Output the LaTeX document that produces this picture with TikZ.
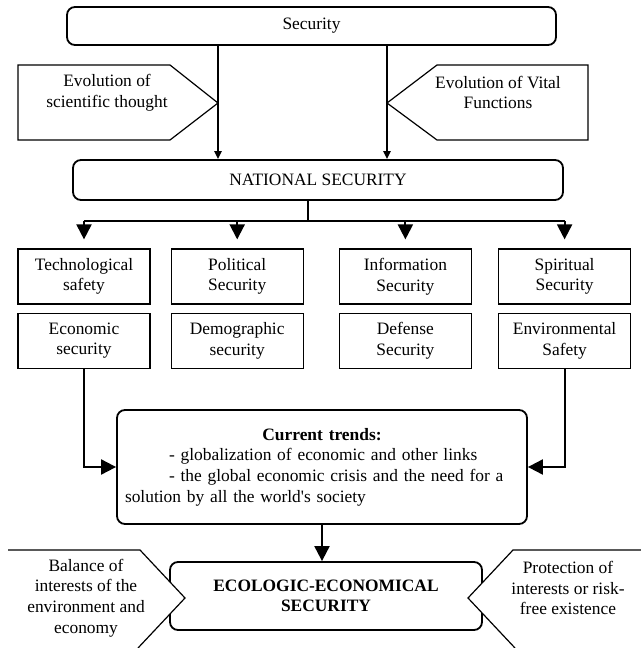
\documentclass[tikz,border=0pt]{standalone}
\usepackage{fontspec}
\setmainfont{Liberation Serif}[Ligatures=TeXOff]
\usetikzlibrary{arrows.meta, positioning}

\begin{document}
\begin{tikzpicture}
   [
      x=0.5pt, y=-0.5pt,
      font=\fontsize{8.7}{10.3}\selectfont,
      % Rounded frames for the main levels
      main box/.style={draw, rounded corners=4pt, line width=0.9pt, align=center},
      % Plain frames for the kinds of security
      kind box/.style={draw, line width=0.6pt, minimum width=66pt, minimum height=27.5pt, inner sep=1pt, align=center},
      % Arrow-shaped side frames
      side shape/.style={draw, fill=white, line width=0.6pt, line join=miter},
      side line/.style={line width=0.6pt, line join=miter},
      side text/.style={align=center},
      % Connectors
      link/.style={line width=1pt},
      big arrow/.style={link, -{Triangle[length=7.5pt, width=7.5pt]}},
      small arrow/.style={link, -{Triangle[length=4pt, width=3.5pt]}}
   ]

    \path[use as bounding box, fill=white] (0,0) rectangle (641,648);

    % =======================================================
    % Top: Security and the two sources
    % =======================================================

    \node[main box, minimum width=244.5pt, minimum height=19pt] (security) at (311.5,26) {Security};
    \node[main box, minimum width=245pt, minimum height=20pt] (national) at (318,180) {NATIONAL SECURITY};

    % Tips of the side frames touch the arrows
    \coordinate (sciTip) at (218,103);
    \coordinate (vitalTip) at (387,103);

    \draw[side shape] (18,65) -- (170,65) -- (sciTip) -- (170,140) -- (18,140) -- cycle;
    \draw[side shape] (588,65) -- (437,65) -- (vitalTip) -- (437,140) -- (588,140) -- cycle;
    \node[side text] (sciText) at (107,92.5) {Evolution of\\scientific thought};
    \node[side text] (vitalText) at (498,92.5) {Evolution of Vital\\Functions};

    \draw[small arrow] (security.south -| sciTip) -- (national.north -| sciTip);
    \draw[small arrow] (security.south -| vitalTip) -- (national.north -| vitalTip);

    % =======================================================
    % Middle: kinds of security
    % =======================================================

    \node[kind box] (tech) at (84,276.5) {Technological\\safety};
    \node[kind box, right=10pt of tech] (polit) {Political\\Security};
    \node[kind box, right=17.5pt of polit] (info) {Information\\Security};
    \node[kind box, right=13pt of info] (spirit) {Spiritual\\Security};

    \node[kind box, below=4pt of tech] (econ) {Economic\\security};
    \node[kind box, below=4pt of polit] (demo) {Demographic\\security};
    \node[kind box, below=4pt of info] (defense) {Defense\\Security};
    \node[kind box, below=4pt of spirit] (enviro) {Environmental\\Safety};

    % Bus from the national level down to the four columns
    \coordinate (bus) at (308,221);
    \draw[link] (national.south -| bus) -- (bus);
    \draw[link] (bus -| tech.north) -- (bus -| spirit.north);
    \foreach \k in {tech, polit, info, spirit}
       \draw[big arrow] (bus -| \k.north) -- ([yshift=4.5pt]\k.north);

    % =======================================================
    % Bottom: current trends and the result
    % =======================================================

    \node[main box, minimum width=205pt, minimum height=57pt, text width=197pt, inner xsep=3pt, align=left] (trends) at (322,467)
       {\makebox[197pt]{\textbf{Current trends:}}\\
        \hspace*{22pt}- globalization of economic and other links\\
        \hspace*{22pt}- the global economic crisis and the need for a\\
        solution by all the world's society};

    \draw[big arrow] (econ.south) |- (trends.west);
    \draw[big arrow] (enviro.south) |- (trends.east);

    \node[main box, minimum width=156pt, minimum height=34pt, font=\fontsize{8.7}{10}\selectfont\bfseries] (ecoEcon) at (326,596)
       {ECOLOGIC-ECONOMICAL\\SECURITY};

    \draw[big arrow] (trends.south) -- (trends.south |- ecoEcon.north);

    % Side frames, cut by the edge of the picture
    \coordinate (balanceTip) at (185,598);
    \coordinate (protectTip) at (468,598);

    \fill[white] (0,550) -- (140,550) -- (balanceTip) -- (138,648) -- (0,648) -- cycle;
    \fill[white] (641,550) -- (513,550) -- (protectTip) -- (515,648) -- (641,648) -- cycle;
    \draw[side line] (8,550) -- (140,550) -- (balanceTip) -- (138,648);
    \draw[side line] (641,550) -- (513,550) -- (protectTip) -- (515,648);

    \node[side text] (balanceText) at (86,598) {Balance of\\interests of the\\environment and\\economy};
    \node[side text] (protectText) at (568,588) {Protection of\\interests or risk-\\free existence};

\end{tikzpicture}
\end{document}
